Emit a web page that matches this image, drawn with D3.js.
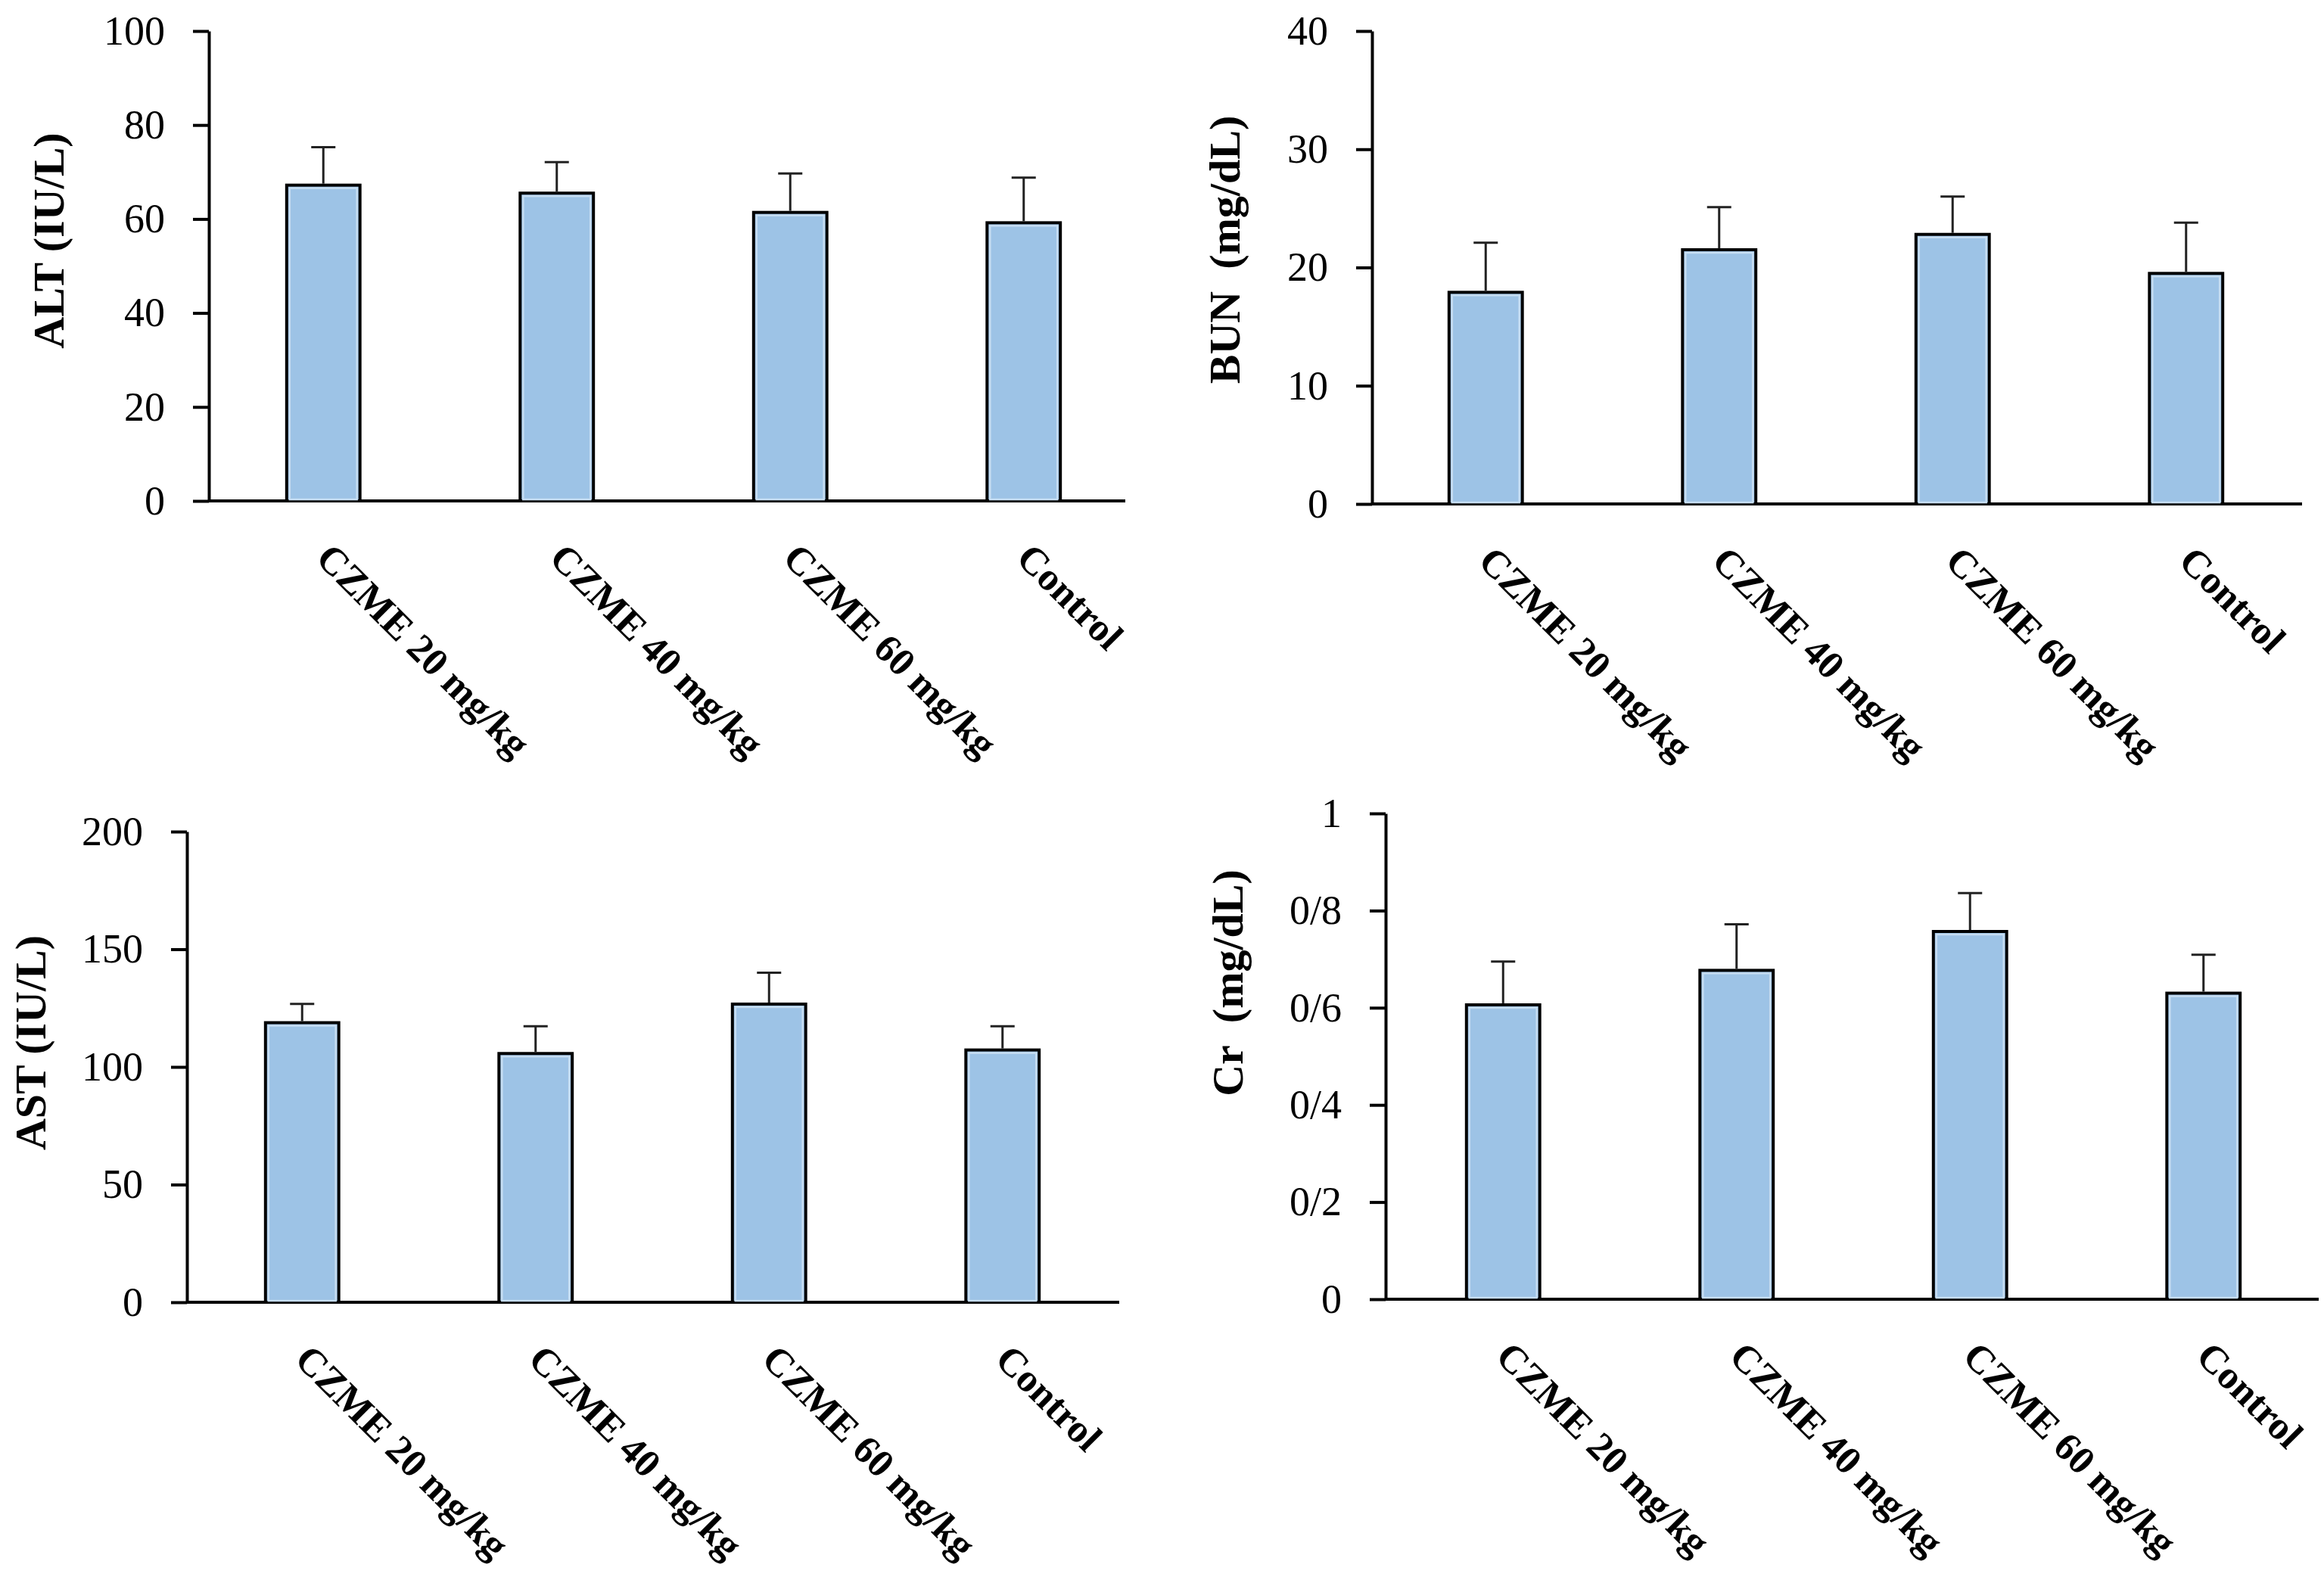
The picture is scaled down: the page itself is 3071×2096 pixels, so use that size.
<!DOCTYPE html>
<html>
<head>
<meta charset="utf-8">
<script src="https://cdn.jsdelivr.net/npm/d3@7"></script>
<style>
  html, body { margin: 0; padding: 0; background: #fff; }
  svg { display: block; }
</style>
</head>
<body>
<svg id="chart" width="3071" height="2096"></svg>
<script>
// ---------- DATA ----------
const categories = ["CZME 20 mg/kg", "CZME 40 mg/kg", "CZME 60 mg/kg", "Control"];

const altValues = [67.2, 65.5, 61.4, 59.2];
const altErrors = [8.1, 6.6, 8.3, 9.6];
const altTicks = [0, 20, 40, 60, 80, 100];
const altTickLabels = ["0", "20", "40", "60", "80", "100"];

const bunValues = [17.9, 21.5, 22.8, 19.5];
const bunErrors = [4.2, 3.6, 3.2, 4.3];
const bunTicks = [0, 10, 20, 30, 40];
const bunTickLabels = ["0", "10", "20", "30", "40"];

const astValues = [118.8, 105.7, 126.7, 107.2];
const astErrors = [8.0, 11.6, 13.3, 10.1];
const astTicks = [0, 50, 100, 150, 200];
const astTickLabels = ["0", "50", "100", "150", "200"];

const crValues = [0.606, 0.677, 0.757, 0.630];
const crErrors = [0.089, 0.095, 0.079, 0.079];
const crTicks = [0, 0.2, 0.4, 0.6, 0.8, 1];
const crTickLabels = ["0", "0/2", "0/4", "0/6", "0/8", "1"];

const yTitles = ["ALT (IU/L)", "BUN\u00a0\u00a0(mg/dL)", "AST (IU/L)", "Cr\u00a0\u00a0(mg/dL)"];

// ---------- LAYOUT ----------
const panels = [
  { values: altValues, errors: altErrors, ticks: altTicks, labels: altTickLabels, max: 100, title: yTitles[0],
    axisX: 276, yTop: 41, yBot: 662, xEnd: 1487, bandX0: 273, titleX: 84, titleY: 318 },
  { values: bunValues, errors: bunErrors, ticks: bunTicks, labels: bunTickLabels, max: 40, title: yTitles[1],
    axisX: 1813, yTop: 41, yBot: 666, xEnd: 3042, bandX0: 1809, titleX: 1638, titleY: 330 },
  { values: astValues, errors: astErrors, ticks: astTicks, labels: astTickLabels, max: 200, title: yTitles[2],
    axisX: 247, yTop: 1099, yBot: 1721, xEnd: 1479, bandX0: 245, titleX: 60, titleY: 1378 },
  { values: crValues, errors: crErrors, ticks: crTicks, labels: crTickLabels, max: 1, title: yTitles[3],
    axisX: 1831, yTop: 1075, yBot: 1717, xEnd: 3064, bandX0: 1832, titleX: 1642, titleY: 1299 }
];

const STEP = 308.5;
const FONT = "'Liberation Serif', 'Times New Roman', serif";
const svg = d3.select("#chart");

panels.forEach(p => {
  const g = svg.append("g");
  const y = d3.scaleLinear().domain([0, p.max]).range([p.yBot, p.yTop]);
  const x = d3.scaleBand().domain(categories)
    .range([p.bandX0, p.bandX0 + STEP * categories.length])
    .paddingInner(0.686).paddingOuter(0.343);

  // baseline (x axis line)
  g.append("line")
    .attr("x1", p.axisX).attr("x2", p.xEnd)
    .attr("y1", y(0)).attr("y2", y(0))
    .attr("stroke", "#000").attr("stroke-width", 4);

  // y axis
  const labelMap = new Map(p.ticks.map((t, i) => [t, p.labels[i]]));
  const yAxis = d3.axisLeft(y).tickValues(p.ticks)
    .tickFormat(d => labelMap.get(d))
    .tickSizeInner(21).tickSizeOuter(0).tickPadding(37);
  const ag = g.append("g").attr("transform", `translate(${p.axisX},0)`).call(yAxis);
  ag.select(".domain").attr("stroke", "#000").attr("stroke-width", 4);
  ag.selectAll(".tick line").attr("stroke", "#000").attr("stroke-width", 4);
  ag.selectAll(".tick text")
    .attr("fill", "#000")
    .style("font-family", FONT).style("font-size", "54px");

  // bars
  const data = categories.map((c, i) => ({ c, v: p.values[i], e: p.errors[i] }));
  g.selectAll("rect.bar").data(data).enter().append("rect")
    .attr("class", "bar")
    .attr("x", d => x(d.c)).attr("width", x.bandwidth())
    .attr("y", d => y(d.v)).attr("height", d => y(0) - y(d.v))
    .attr("fill", "#9DC3E6").attr("stroke", "#000").attr("stroke-width", 4);
  // inner light edge
  g.selectAll("rect.inner").data(data).enter().append("rect")
    .attr("class", "inner")
    .attr("x", d => x(d.c) + 4).attr("width", x.bandwidth() - 8)
    .attr("y", d => y(d.v) + 4).attr("height", d => y(0) - y(d.v) - 6)
    .attr("fill", "none").attr("stroke", "#C6DDF2").attr("stroke-width", 2.5);

  // error bars
  const cx = d => x(d.c) + x.bandwidth() / 2;
  g.selectAll("line.err").data(data).enter().append("line")
    .attr("class", "err")
    .attr("x1", cx).attr("x2", cx)
    .attr("y1", d => y(d.v) - 2).attr("y2", d => y(d.v + d.e))
    .attr("stroke", "#222").attr("stroke-width", 3);
  g.selectAll("line.cap").data(data).enter().append("line")
    .attr("class", "cap")
    .attr("x1", d => cx(d) - 16).attr("x2", d => cx(d) + 16)
    .attr("y1", d => y(d.v + d.e)).attr("y2", d => y(d.v + d.e))
    .attr("stroke", "#222").attr("stroke-width", 3);

  // category labels
  g.selectAll("text.cat").data(data).enter().append("text")
    .attr("class", "cat")
    .attr("transform", d => `translate(${cx(d) - 12},${y(0) + 78}) rotate(45)`)
    .attr("text-anchor", "start")
    .style("font-family", FONT).style("font-size", "52px").style("font-weight", "bold")
    .text(d => d.c);

  // y title
  g.append("text")
    .attr("transform", `translate(${p.titleX},${p.titleY}) rotate(-90)`)
    .attr("text-anchor", "middle")
    .style("font-family", FONT).style("font-size", "58px").style("font-weight", "bold")
    .text(p.title);
});
</script>
</body>
</html>
